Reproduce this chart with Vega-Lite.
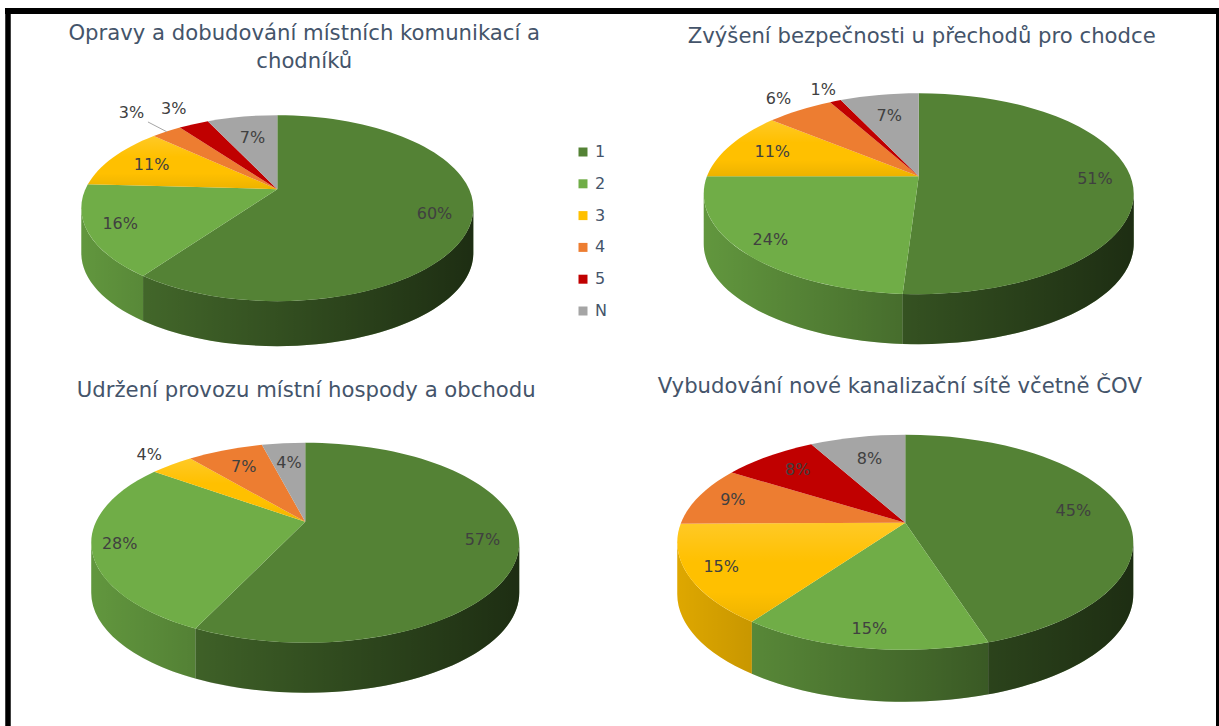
{
"$schema":"https://vega.github.io/schema/vega-lite/v6.json",
"autosize":{"type":"fit","contains":"padding"},
"width":1219,"height":726,"padding":0,"background":"white",
"config":{"view":{"stroke":null},"font":"DejaVu Sans"},
"params":[
{"name":"geo","value":{
"A":{"cx":278,"cy":209,"rx":196,"ry":93,"ay":-19,"d":45,"k":0.82},
"B":{"cx":921,"cy":194.5,"rx":215,"ry":100.5,"ay":-17.5,"d":50,"k":0.84},
"C":{"cx":306,"cy":545,"rx":214,"ry":100,"ay":-21,"d":50,"k":0.81},
"D":{"cx":907.5,"cy":544.5,"rx":228,"ry":107.5,"ay":-19.5,"d":52,"k":0.84}}},
{"name":"reach","value":{
"A1":0.81,"A2":0.83,"A3":0.77,"A4":1.32,"A5":1.24,"AN":0.71,
"B1":0.83,"B2":0.85,"B3":0.78,"B4":1.18,"B5":1.15,"BN":0.75,
"C1":0.83,"C2":0.87,"C3":1.17,"C4":0.77,"CN":0.75,
"D1":0.78,"D2":0.85,"D3":0.85,"D4":0.84,"D5":0.79,"DN":0.75}},
{"name":"titlePos","value":{"A":[305,23],"B":[924,26],"C":[307,382],"D":[902,378]}}
],
"datasets":{
"slices":[
{"chart":"A","series":"1","share":60},{"chart":"A","series":"2","share":16},{"chart":"A","series":"3","share":11},{"chart":"A","series":"4","share":3},{"chart":"A","series":"5","share":3},{"chart":"A","series":"N","share":7},
{"chart":"B","series":"1","share":51},{"chart":"B","series":"2","share":24},{"chart":"B","series":"3","share":11},{"chart":"B","series":"4","share":6},{"chart":"B","series":"5","share":1},{"chart":"B","series":"N","share":7},
{"chart":"C","series":"1","share":57},{"chart":"C","series":"2","share":28},{"chart":"C","series":"3","share":4},{"chart":"C","series":"4","share":7},{"chart":"C","series":"N","share":4},
{"chart":"D","series":"1","share":45},{"chart":"D","series":"2","share":15},{"chart":"D","series":"3","share":15},{"chart":"D","series":"4","share":9},{"chart":"D","series":"5","share":8},{"chart":"D","series":"N","share":8}
],
"titles":[
{"chart":"A","title":"Opravy a dobudování místních komunikací a\nchodníků"},
{"chart":"B","title":"Zvýšení bezpečnosti u přechodů pro chodce"},
{"chart":"C","title":"Udržení provozu místní hospody a obchodu"},
{"chart":"D","title":"Vybudování nové kanalizační sítě včetně ČOV"}
]},
"layer":[
{"data":{"name":"slices"},
"transform":[
{"stack":"share","groupby":["chart"],"sort":[{"field":"series","order":"ascending"}],"offset":"normalize","as":["s0","s1"]},
{"calculate":"geo[datum.chart]","as":"g"},
{"calculate":"datum.g.cx","as":"cx"},{"calculate":"datum.g.cy","as":"cy"},
{"calculate":"datum.s0*PI","as":"h0"},{"calculate":"datum.s1*PI","as":"h1"},
{"calculate":"2*atan2(datum.g.k*sin(datum.h0),cos(datum.h0))","as":"p0"},
{"calculate":"2*atan2(datum.g.k*sin(datum.h1),cos(datum.h1))","as":"p1"},
{"calculate":"max(datum.p0,PI/2)","as":"c0"},{"calculate":"min(datum.p1,3*PI/2)","as":"c1"},
{"filter":"datum.c1>datum.c0"},
{"calculate":"'M'+(datum.g.rx*sin(datum.c0))+','+(-datum.g.ry*cos(datum.c0))+'A'+datum.g.rx+','+datum.g.ry+' 0 0 1 '+(datum.g.rx*sin(datum.c1))+','+(-datum.g.ry*cos(datum.c1))+'L'+(datum.g.rx*sin(datum.c1))+','+(datum.g.d-datum.g.ry*cos(datum.c1))+'A'+datum.g.rx+','+datum.g.ry+' 0 0 0 '+(datum.g.rx*sin(datum.c0))+','+(datum.g.d-datum.g.ry*cos(datum.c0))+'Z'","as":"wall"}
],
"mark":{"type":"point","filled":true,"opacity":1,"size":4,"strokeWidth":0},
"encoding":{
"x":{"field":"cx","type":"quantitative","scale":{"domain":[0,1219],"nice":false,"zero":false},"axis":null},
"y":{"field":"cy","type":"quantitative","scale":{"domain":[726,0],"nice":false,"zero":false},"axis":null},
"shape":{"field":"wall","type":"nominal","scale":null},
"color":{"field":"series","type":"nominal",
"scale":{"domain":["1","2","3","4","5","N"],"range":["#548235","#70ad47","#ffc000","#ed7d31","#c00000","#a5a5a5"]},
"legend":{"title":null,"orient":"none","legendX":575,"legendY":144,"symbolType":"square","symbolSize":81,"symbolOpacity":1,"labelFontSize":16,"labelColor":"#44546a","labelFont":"DejaVu Sans","rowPadding":15.8,"labelOffset":4}}
}},
{"data":{"name":"slices"},
"transform":[
{"filter":"datum.series=='1'"},
{"calculate":"geo[datum.chart]","as":"g"},
{"calculate":"datum.g.cx","as":"cx"},{"calculate":"datum.g.cy","as":"cy"},
{"calculate":"'M'+datum.g.rx+',0A'+datum.g.rx+','+datum.g.ry+' 0 0 1 '+(-datum.g.rx)+',0L'+(-datum.g.rx)+','+datum.g.d+'A'+datum.g.rx+','+datum.g.ry+' 0 0 0 '+datum.g.rx+','+datum.g.d+'Z'","as":"shade"}
],
"mark":{"type":"point","filled":true,"opacity":1,"size":4,"strokeWidth":0,
"fill":{"gradient":"linear","x1":0,"y1":0,"x2":1,"y2":0,"stops":[{"offset":0,"color":"rgba(0,0,0,0.13)"},{"offset":1,"color":"rgba(0,0,0,0.65)"}]}},
"encoding":{
"x":{"field":"cx","type":"quantitative","axis":null},
"y":{"field":"cy","type":"quantitative","axis":null},
"shape":{"field":"shade","type":"nominal","scale":null}
}},
{"data":{"name":"slices"},
"transform":[
{"stack":"share","groupby":["chart"],"sort":[{"field":"series","order":"ascending"}],"offset":"normalize","as":["s0","s1"]},
{"calculate":"geo[datum.chart]","as":"g"},
{"calculate":"datum.g.cx","as":"cx"},{"calculate":"datum.g.cy","as":"cy"},
{"calculate":"datum.s0*PI","as":"h0"},{"calculate":"datum.s1*PI","as":"h1"},
{"calculate":"2*atan2(datum.g.k*sin(datum.h0),cos(datum.h0))","as":"p0"},
{"calculate":"2*atan2(datum.g.k*sin(datum.h1),cos(datum.h1))","as":"p1"},
{"calculate":"'M0,'+datum.g.ay+'L'+(datum.g.rx*sin(datum.p0))+','+(-datum.g.ry*cos(datum.p0))+'A'+datum.g.rx+','+datum.g.ry+' 0 '+(datum.p1-datum.p0>PI?1:0)+' 1 '+(datum.g.rx*sin(datum.p1))+','+(-datum.g.ry*cos(datum.p1))+'Z'","as":"wedge"}
],
"layer":[
{"mark":{"type":"point","filled":true,"opacity":1,"size":4,"strokeWidth":0},
"encoding":{
"x":{"field":"cx","type":"quantitative","axis":null},
"y":{"field":"cy","type":"quantitative","axis":null},
"shape":{"field":"wedge","type":"nominal","scale":null},
"color":{"field":"series","type":"nominal"}
}},
{"transform":[{"filter":"datum.series=='3'"}],
"mark":{"type":"point","filled":true,"opacity":1,"size":4,"strokeWidth":0,
"fill":{"gradient":"linear","x1":0,"y1":0,"x2":0,"y2":1,"stops":[{"offset":0,"color":"rgba(255,255,255,0.15)"},{"offset":0.4,"color":"rgba(255,255,255,0)"},{"offset":0.7,"color":"rgba(0,0,0,0)"},{"offset":1,"color":"rgba(0,0,0,0.07)"}]}},
"encoding":{
"x":{"field":"cx","type":"quantitative","axis":null},
"y":{"field":"cy","type":"quantitative","axis":null},
"shape":{"field":"wedge","type":"nominal","scale":null}
}}
]},
{"data":{"name":"slices"},
"transform":[
{"stack":"share","groupby":["chart"],"sort":[{"field":"series","order":"ascending"}],"offset":"normalize","as":["s0","s1"]},
{"calculate":"geo[datum.chart]","as":"g"},
{"calculate":"(datum.s0+datum.s1)*PI/2","as":"hm"},
{"calculate":"2*atan2(datum.g.k*sin(datum.hm),cos(datum.hm))","as":"pm"},
{"calculate":"datum.g.rx*sin(datum.pm)","as":"ux"},
{"calculate":"-datum.g.ry*cos(datum.pm)-datum.g.ay","as":"uy"},
{"calculate":"reach[datum.chart+datum.series]","as":"f"},
{"calculate":"datum.g.cx+datum.f*datum.ux","as":"lx"},
{"calculate":"datum.g.cy+datum.g.ay+datum.f*datum.uy","as":"ly"},
{"calculate":"datum.g.cx+datum.ux","as":"ex"},
{"calculate":"datum.g.cy+datum.g.ay+datum.uy","as":"ey"},
{"calculate":"datum.g.cx+1.17*datum.ux","as":"sx"},
{"calculate":"datum.g.cy+datum.g.ay+1.17*datum.uy","as":"sy"},
{"calculate":"datum.share+'%'","as":"label"}
],
"layer":[
{"mark":{"type":"text","fontSize":16,"font":"DejaVu Sans","color":"#404040","align":"center","baseline":"middle"},
"encoding":{
"x":{"field":"lx","type":"quantitative","axis":null},
"y":{"field":"ly","type":"quantitative","axis":null},
"text":{"field":"label","type":"nominal"}
}},
{"transform":[{"filter":"datum.f>1.3"}],
"mark":{"type":"rule","color":"#a6a6a6","strokeWidth":1},
"encoding":{
"x":{"field":"ex","type":"quantitative","axis":null},"y":{"field":"ey","type":"quantitative","axis":null},
"x2":{"field":"sx"},"y2":{"field":"sy"}
}}
]},
{"data":{"name":"titles"},
"transform":[
{"calculate":"titlePos[datum.chart][0]","as":"tx"},
{"calculate":"titlePos[datum.chart][1]","as":"ty"}
],
"mark":{"type":"text","fontSize":21.2,"font":"DejaVu Sans","color":"#44546a","align":"center","baseline":"top","lineBreak":"\n","lineHeight":28},
"encoding":{
"x":{"field":"tx","type":"quantitative","axis":null},
"y":{"field":"ty","type":"quantitative","axis":null},
"text":{"field":"title","type":"nominal"}
}},
{"data":{"values":[{"edge":"left"}]},"mark":{"type":"rule","color":"black","strokeWidth":5.5},
"encoding":{"x":{"value":8},"y":{"value":8},"y2":{"value":726}}},
{"data":{"values":[{"edge":"top"}]},"mark":{"type":"rule","color":"black","strokeWidth":6},
"encoding":{"y":{"value":11},"x":{"value":5},"x2":{"value":1219}}},
{"data":{"values":[{"edge":"right"}]},"mark":{"type":"rule","color":"black","strokeWidth":4},
"encoding":{"x":{"value":1218},"y":{"value":8},"y2":{"value":726}}}
]
}
